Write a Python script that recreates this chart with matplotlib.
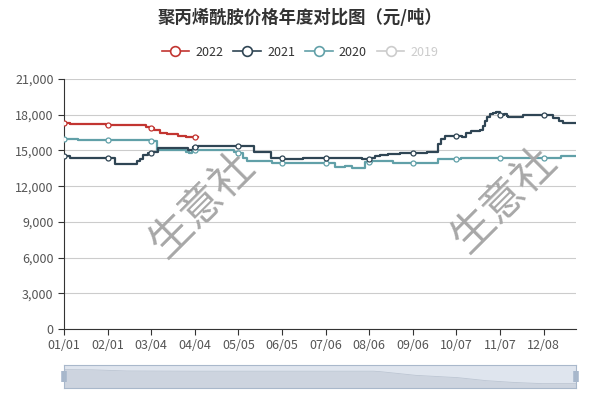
import numpy as np
import pandas as pd
import matplotlib
matplotlib.use('Agg')
import matplotlib.pyplot as plt
from matplotlib.lines import Line2D

plt.rcParams['font.family'] = ['Noto Sans CJK SC', 'DejaVu Sans']

# category axis: one point per day, labels MM/DD
days = pd.date_range('2021-01-01', periods=365).strftime('%m/%d')

# step series as (start day, price) breakpoints
d22 = [0, 4, 30, 42, 48, 58, 61, 64, 68, 73, 81, 87, 91]
v22 = [17300, 17200, 17150, 17100, 17150, 17000, 16850, 16700, 16500, 16350, 16250, 16150, 16100]
end22 = 96

d21 = [0, 4, 36, 52, 54, 56, 60, 63, 67, 88, 92, 95, 135, 147, 156, 162, 170,
       197, 212, 218, 221, 225, 230, 239, 244, 258, 263, 266, 268, 271, 283,
       286, 289, 296, 298, 299, 301, 303, 305, 307, 310, 313, 315, 316, 326,
       348, 352, 355]
v21 = [14500, 14400, 13850, 14100, 14300, 14600, 14800, 14900, 15200, 15000,
       15250, 15400, 14850, 14400, 14250, 14300, 14400, 14350, 14300, 14400,
       14500, 14600, 14700, 14750, 14800, 14850, 14900, 15500, 16000, 16200,
       16150, 16450, 16650, 16700, 17050, 17500, 17800, 18050, 18150, 18250,
       18000, 18100, 17850, 17800, 17950, 17700, 17500, 17300]

d20 = [0, 10, 59, 61, 66, 87, 89, 91, 121, 124, 127, 130, 148, 193, 200, 205,
       214, 219, 234, 266, 282, 300, 339, 353, 360]
v20 = [15950, 15900, 15850, 15750, 15050, 14850, 14800, 15000, 14900, 14800,
       14350, 14150, 13950, 13600, 13650, 13550, 14050, 14100, 13950, 14300,
       14350, 14350, 14400, 14500, 14550]

# dataZoom shadow outline (relative height)
shadow_d = [0, 20, 45, 90, 150, 220, 225, 250, 280, 300, 320, 340, 364]
shadow_v = [0.80, 0.79, 0.74, 0.73, 0.73, 0.73, 0.71, 0.55, 0.45, 0.32, 0.24, 0.19, 0.19]


def expand(starts, vals, end):
    lens = np.diff(starts + [end])
    return np.repeat(vals, lens)


y22 = expand(d22, v22, end22)
y21 = expand(d21, v21, 365)
y20 = expand(d20, v20, 365)

colors = ['#c23531', '#2f4554', '#61a0a8']
ticks = np.arange(0, 365, 31)

fig = plt.figure(figsize=(6, 4), dpi=100)
ax = fig.add_axes([64 / 600, 71 / 400, 512 / 600, 250 / 400])

for y, c in [(y20, colors[2]), (y21, colors[1]), (y22, colors[0])]:
    x = np.arange(len(y))
    ax.plot(x, y, color=c, lw=1.6, drawstyle='steps-post', zorder=3)
    m = ticks[ticks < len(y)]
    ax.plot(m, y[m], 'o', ms=3.6, mfc='white', mec=c, mew=0.9, zorder=4)

ax.set_xlim(0, 364)
ax.set_ylim(0, 21000)
ax.set_yticks(np.arange(0, 21001, 3000))
ax.set_yticklabels([f'{v:,}' for v in range(0, 21001, 3000)])
ax.set_xticks(ticks)
ax.set_xticklabels(days[ticks])
ax.grid(axis='y', color='#cccccc', lw=0.8)
ax.set_axisbelow(True)
for s in ['top', 'right']:
    ax.spines[s].set_visible(False)
for s in ['left', 'bottom']:
    ax.spines[s].set_color('#333333')
ax.tick_params(colors='#333333', labelsize=9, length=4, labelcolor='#555555')

# watermarks
for wx, wy in [(203, 205), (505, 200)]:
    fig.text(wx / 600, 1 - wy / 400, '生意社', rotation=45, fontsize=31,
             color='#a8a8a8', ha='center', va='center', fontweight='light', zorder=5)

fig.text(0.5, 1 - 18 / 400, '聚丙烯酰胺价格年度对比图（元/吨）', ha='center', va='center',
         fontsize=12.5, fontweight='bold', color='#333333')

labels = ['2022', '2021', '2020', '2019']
hcol = colors + ['#cccccc']
handles = [Line2D([], [], color=c, lw=1.2, marker='o', ms=7, mfc='white', mec=c, mew=1.2)
           for c in hcol]
leg = fig.legend(handles, labels, loc='center', bbox_to_anchor=(0.5, 1 - 52 / 400), ncol=4,
                 frameon=False, fontsize=9, handlelength=2.2, columnspacing=0.8,
                 handletextpad=0.5)
for t, c in zip(leg.get_texts(), ['#333333'] * 3 + ['#cccccc']):
    t.set_color(c)

# dataZoom slider
sz = fig.add_axes([64 / 600, 12 / 400, 512 / 600, 23 / 400])
sz.set_xlim(0, 364)
sz.set_ylim(0, 1)
sz.fill_between(shadow_d, 0, shadow_v, color='#cdd4df', lw=0)
sz.plot(shadow_d, shadow_v, color='#bcc5d2', lw=0.6)
sz.axhspan(0, 1, color='#dfe5ee', lw=0, zorder=0)
for s in sz.spines.values():
    s.set_color('#a9b8cb')
    s.set_linewidth(0.8)
sz.set_xticks([])
sz.set_yticks([])
for hx in [0, 364]:
    sz.plot([hx, hx], [0.28, 0.72], color='#a7b7cc', lw=4, solid_capstyle='butt', clip_on=False)

fig.savefig('out.png', dpi=100)
